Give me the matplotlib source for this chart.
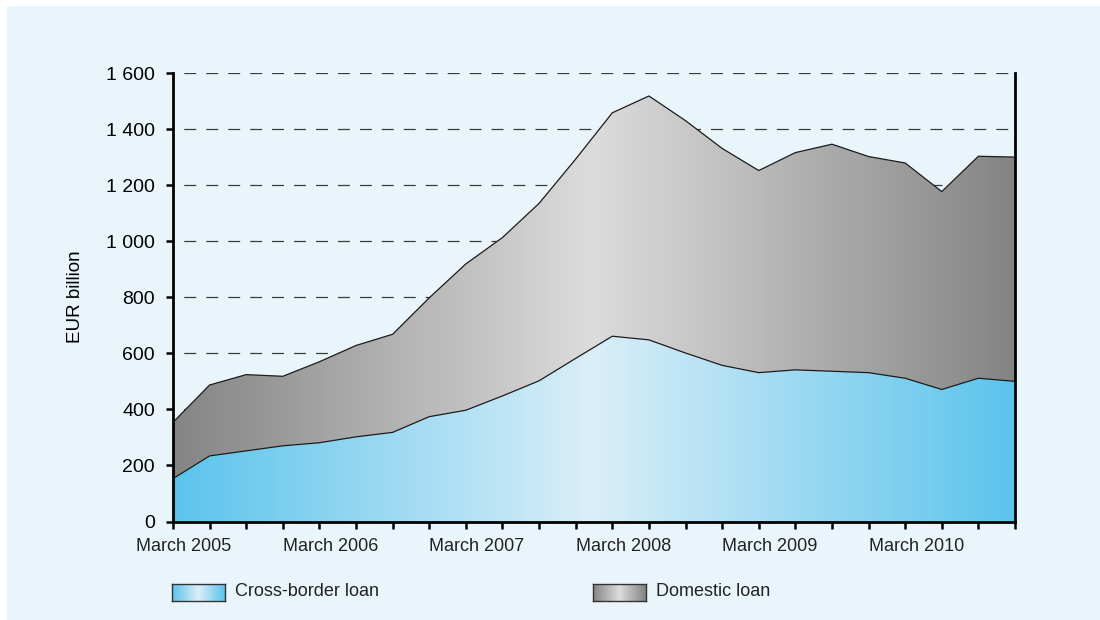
import numpy as np
import matplotlib
matplotlib.use("Agg")
import matplotlib.pyplot as plt
from matplotlib.colors import LinearSegmentedColormap
from matplotlib.patches import Rectangle, Polygon
from matplotlib.ticker import FuncFormatter

# quarterly data, March 2005 .. December 2010 (EUR billion)
tick_labels = ["March 2005", "March 2006", "March 2007", "March 2008", "March 2009", "March 2010"]
cross_border = [153, 234, 252, 270, 281, 302, 318, 374, 397, 448, 502, 582,
                661, 648, 601, 557, 531, 541, 536, 531, 511, 471, 511, 500]
domestic = [201, 253, 272, 248, 289, 326, 350, 424, 522, 565, 633, 711,
            797, 870, 829, 774, 721, 775, 810, 771, 768, 706, 792, 800]
series_names = ["Cross-border loan", "Domestic loan"]

BG = "#eaf5fb"
BLUE_EDGE, BLUE_MID = "#5bc4ec", "#daeef8"
GREY_EDGE, GREY_MID = "#848485", "#dcdcdd"

plt.rcParams["lines.scale_dashes"] = False
plt.rcParams["font.family"] = ["Liberation Sans", "DejaVu Sans"]

x = np.arange(len(cross_border))
lower = np.array(cross_border)
total = lower + np.array(domestic)

fig = plt.figure(figsize=(11, 6.2), dpi=100, facecolor="white")
fig.patches.append(Rectangle((7 / 1100, 0), 1, 1 - 6 / 620, transform=fig.transFigure,
                             facecolor=BG, edgecolor="none", zorder=-10))

ax = fig.add_axes([173 / 1100, 1 - 521.5 / 620, 842 / 1100, 448.5 / 620])
ax.patch.set_alpha(0)


def mirror_cmap(edge, mid):
    return LinearSegmentedColormap.from_list("m", [mid, edge])


def gradient_area(bottom, top, cmap):
    verts = np.column_stack([np.r_[x, x[::-1]], np.r_[top, bottom[::-1]]])
    poly = Polygon(verts, closed=True, facecolor="none", edgecolor="none")
    ax.add_patch(poly)
    grad = np.abs(np.linspace(-1, 1, 512))[None, :]
    im = ax.imshow(grad, extent=[x[0], x[-1], 0, 1600], aspect="auto", cmap=cmap,
                   origin="lower", interpolation="bilinear", zorder=2)
    im.set_clip_path(poly)


gradient_area(np.zeros_like(lower), lower, mirror_cmap(BLUE_EDGE, BLUE_MID))
gradient_area(lower, total, mirror_cmap(GREY_EDGE, GREY_MID))
ax.plot(x, lower, color="#1c1c1c", lw=0.9, zorder=3)
ax.plot(x, total, color="#1c1c1c", lw=0.9, zorder=3)

ax.set_xlim(x[0], x[-1])
ax.set_ylim(0, 1600)
ax.set_yticks(range(0, 1601, 200))
ax.yaxis.set_major_formatter(FuncFormatter(lambda v, p: f"{v:,.0f}".replace(",", " ")))
ax.yaxis.grid(True, color="#3a3a3a", lw=0.9, linestyle=(8, (8.6, 7.2)))
ax.set_axisbelow(True)

ax.set_xticks(x)
ax.set_xticklabels([])
ax.set_xticks(np.arange(0, len(x), 4)[:len(tick_labels)] + 0.3, tick_labels, minor=True)

ax.tick_params(axis="y", length=5, width=1.8, pad=8, labelsize=14, colors="black")
ax.tick_params(axis="x", which="major", length=5, width=1.8)
ax.tick_params(axis="x", which="minor", length=0, pad=12, labelsize=13, labelcolor="#222222")

ax.spines["top"].set_visible(False)
for s in ["left", "right", "bottom"]:
    ax.spines[s].set_linewidth(2)
    ax.spines[s].set_color("black")

fig.text(75 / 1100, 1 - 297 / 620, "EUR billion", rotation=90, ha="center", va="center",
         fontsize=13.5)

# legend
for px, name, edge, mid in [(172, series_names[0], BLUE_EDGE, BLUE_MID),
                            (593, series_names[1], GREY_EDGE, GREY_MID)]:
    lax = fig.add_axes([px / 1100, 1 - 601 / 620, 53 / 1100, 17 / 620])
    lax.imshow(np.abs(np.linspace(-1, 1, 256))[None, :], aspect="auto",
               cmap=mirror_cmap(edge, mid))
    lax.set_xticks([])
    lax.set_yticks([])
    for s in lax.spines.values():
        s.set_color("#333333")
        s.set_linewidth(1)
    fig.text((px + 63) / 1100, 1 - 596 / 620, name, ha="left", va="baseline",
             fontsize=13, color="#222222")

fig.savefig("out.png", dpi=100, facecolor=fig.get_facecolor())
